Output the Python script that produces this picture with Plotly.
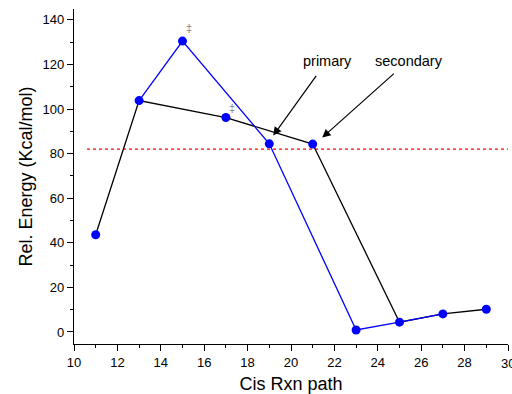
import plotly.graph_objects as go

# data
x_all = [11, 13, 15, 17, 19, 21, 23, 25, 27, 29]
y_all = [43.6, 103.8, 130.5, 96.2, 84.4, 84.3, 0.9, 4.4, 8.1, 10.2]
x_black = [11, 13, 17, 21, 25, 27, 29]
y_black = [43.6, 103.8, 96.2, 84.3, 4.4, 8.1, 10.2]
x_blue = [13, 15, 19, 23, 25, 27]
y_blue = [103.8, 130.5, 84.4, 0.9, 4.4, 8.1]
ref_x = [10.6, 30]
ref_y = [82, 82]

fig = go.Figure()
fig.add_trace(go.Scatter(x=ref_x, y=ref_y, mode="lines", cliponaxis=False,
                         line=dict(color="#ff0000", width=1.2, dash="dot"), showlegend=False))
fig.add_trace(go.Scatter(x=x_black, y=y_black, mode="lines",
                         line=dict(color="black", width=1.3), showlegend=False))
fig.add_trace(go.Scatter(x=x_blue, y=y_blue, mode="lines",
                         line=dict(color="blue", width=1.3), showlegend=False))
fig.add_trace(go.Scatter(x=x_all, y=y_all, mode="markers",
                         marker=dict(color="blue", size=9), showlegend=False))

font = "Liberation Sans, Arial, sans-serif"
fig.add_annotation(x=15.3, y=136.5, text="‡", showarrow=False,
                   font=dict(size=11, color="gray", family=font))
fig.add_annotation(x=17.3, y=100.5, text="‡", showarrow=False,
                   font=dict(size=11, color="gray", family=font))
fig.add_annotation(x=19.18, y=88.1, ax=21.21, ay=115.6, axref="x", ayref="y",
                   text="", showarrow=True, arrowhead=2, arrowsize=1.4, arrowwidth=1.2,
                   arrowcolor="black")
fig.add_annotation(x=21.44, y=87.2, ax=24.81, ay=116.5, axref="x", ayref="y",
                   text="", showarrow=True, arrowhead=2, arrowsize=1.4, arrowwidth=1.2,
                   arrowcolor="black")
fig.add_annotation(x=21.68, y=121.6, text="primary", showarrow=False,
                   font=dict(size=14.5, color="black", family=font))
fig.add_annotation(x=25.46, y=121.6, text="secondary", showarrow=False,
                   font=dict(size=14.5, color="black", family=font))
fig.add_annotation(x=30, y=0, xref="x", yref="paper", yshift=-10, yanchor="top",
                   text="30", showarrow=False, font=dict(size=13, color="black", family=font))

fig.update_layout(
    width=512, height=394,
    margin=dict(l=74, r=4, t=9, b=50),
    paper_bgcolor="white", plot_bgcolor="white",
    font=dict(family=font, color="black", size=13),
)
fig.update_xaxes(range=[10, 30], dtick=2, showline=True, linecolor="black", linewidth=1.3,
                 ticks="outside", ticklen=6, tickcolor="black", showgrid=False, zeroline=False,
                 automargin=False,
                 minor=dict(ticks="outside", ticklen=3, dtick=1, tickcolor="black"),
                 title=dict(text="Cis Rxn path", font=dict(size=18), standoff=15))
fig.update_yaxes(range=[-5.4, 144.9], dtick=20, showline=True, linecolor="black", linewidth=1.3,
                 ticks="outside", ticklen=6, tickcolor="black", showgrid=False, zeroline=False,
                 automargin=False,
                 minor=dict(ticks="outside", ticklen=3, dtick=10, tickcolor="black"),
                 title=dict(text="Rel. Energy (Kcal/mol)", font=dict(size=18), standoff=5))

fig.write_html("out.html")
